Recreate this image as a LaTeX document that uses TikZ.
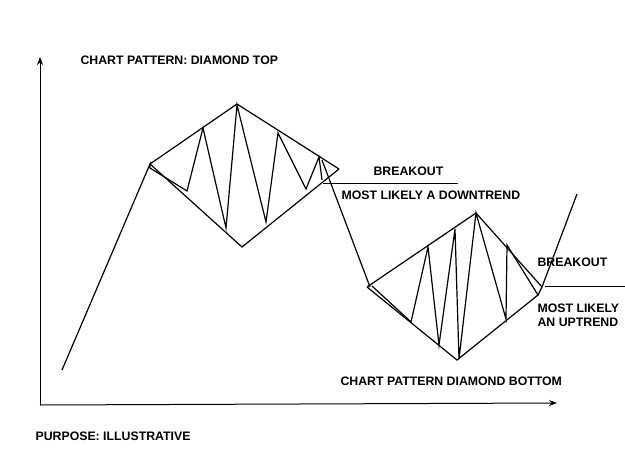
\documentclass[tikz,border=0pt]{standalone}
\usepackage{fontspec}
\setmainfont{Liberation Sans}
\usetikzlibrary{arrows.meta}
\begin{document}
\begin{tikzpicture}[x=1pt,y=-1pt,line width=1.2pt,
  lbl/.style={font=\bfseries\fontsize{12.3}{14}\selectfont,anchor=west,inner sep=0pt},
  ax/.style={line width=1pt,-{Stealth[length=8pt,width=6pt]}}]
\useasboundingbox (0,0) rectangle (625,469);
\coordinate (o) at (40,405);
\coordinate (yt) at (40,57);
\coordinate (xt) at (557,403);
\draw[ax] (o) -- (yt);
\draw[ax] (o) -- (xt);
% left diamond
\coordinate (L1) at (150,164); \coordinate (T1) at (237,104);
\coordinate (R1) at (339,169); \coordinate (B1) at (242,247);
\draw (L1) -- (T1) -- (R1) (L1) -- (B1) -- (R1);
\draw (62,370) -- (L1) -- (150,168) -- (187,191) -- (203,128) -- (226,228) -- (237,105)
  -- (266,222) -- (278,133) -- (306,189) -- (319,157) -- (322,180);
\draw (322,160) -- (370,287);
\draw[line width=0.9pt] (323,183) -- (458,183);
% right diamond
\coordinate (L2) at (367,287); \coordinate (T2) at (476,213);
\coordinate (R2) at (542,287); \coordinate (B2) at (457,360);
\draw (L2) -- (T2) -- (R2) (L2) -- (B2) -- (538,295);
\draw (372,286) -- (411,322) -- (428,247) -- (439,345) -- (455,229) -- (459,359)
  -- (476,213) -- (506,319) -- (507,245) -- (538,295) -- (542,287) -- (577,194);
\draw[line width=0.9pt] (545,286) -- (625,286);
% texts
\node[lbl] (t1) at (80,60) {CHART PATTERN: DIAMOND TOP};
\node[lbl] (t2) at (373,171) {BREAKOUT};
\node[lbl] (t3) at (341,195) {MOST LIKELY A DOWNTREND};
\node[lbl] (t4) at (537,262) {BREAKOUT};
\node[lbl,align=left] (t5) at (537,315) {MOST LIKELY\\AN UPTREND};
\node[lbl] (t6) at (340,381) {CHART PATTERN DIAMOND BOTTOM};
\node[lbl] (t7) at (35,436) {PURPOSE: ILLUSTRATIVE};
\end{tikzpicture}
\end{document}
